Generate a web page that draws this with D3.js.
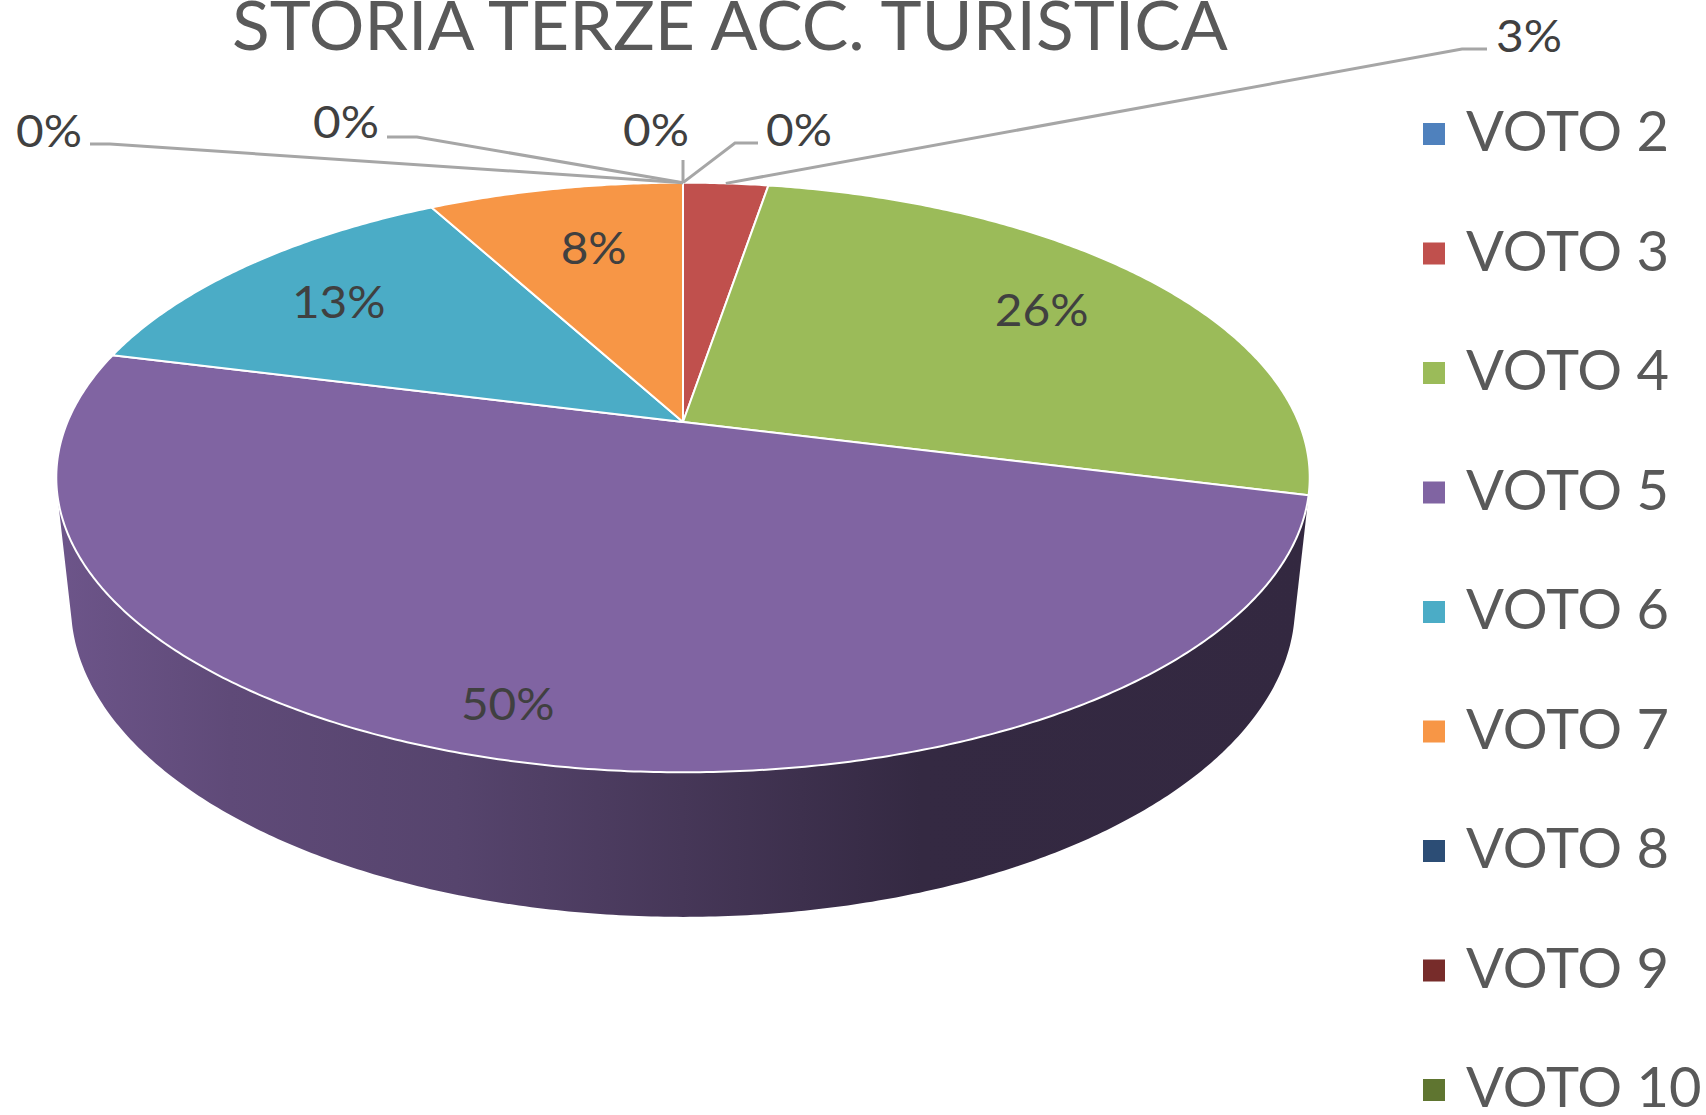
<!DOCTYPE html>
<html><head><meta charset="utf-8">
<script src="https://cdn.jsdelivr.net/npm/d3@7"></script>
<style>body{margin:0;background:#fff}svg{display:block}text{font-family:Lato,"Open Sans",sans-serif}</style>
</head><body><svg id="c" width="1706" height="1115"></svg>
<script>
// ---- data ----
const title = "STORIA TERZE ACC. TURISTICA";
const categories = ["VOTO 2","VOTO 3","VOTO 4","VOTO 5","VOTO 6","VOTO 7","VOTO 8","VOTO 9","VOTO 10"];
const values = [0, 1, 10, 19, 5, 3, 0, 0, 0];
const colors = ["#4f81bd","#c0504d","#9bbb59","#8064a2","#4bacc6","#f79646","#2c4d75","#772c2a","#5f7530"];

// ---- layout ----
const cx = 683, cy = 422;            // projected centre of the top face
const f = 2901, Dcam = 4.713;        // perspective camera
const sinP = 0.462, cosP = Math.sqrt(1 - sinP*sinP);
const thick = 0.236;                 // pie height (radius units)
const sideStops = [[0,0.45],[0.14,0.84],[0.32,1.1],[0.5,1.7],[0.69,2.5],[1,2.6]];
// inside label placement: [fraction along slice angle, radius fraction]
const labelPlace = {2: [0.49, 0.76], 3: [0.51, 0.87], 4: [0.48, 0.76], 5: [0.53, 0.71]};
const outsideLabels = {
  0: {x: 766, y: 146, path: [[758,143],[735,143]]},
  1: {x: 1496, y: 52, path: [[1487,49],[1462,49]]},
  6: {x: 16, y: 147, path: [[90,144],[110,144]]},
  7: {x: 313, y: 138, path: [[387,137],[417,137]]},
  8: {x: 623, y: 146, path: [[683,160]]}
};

const svg = d3.select("#c");
svg.append("rect").attr("width",1706).attr("height",1115).attr("fill","#fff");
const total = d3.sum(values);
const pct = d3.format(".0%");
const color = d3.scaleOrdinal().domain(categories).range(colors);
const arcs = d3.pie().sort(null).value(d => d)(values);

function proj(th, r, h) {
  const x = r*Math.sin(th), d = r*Math.cos(th);
  const z = Dcam + d*cosP - h*sinP;
  const u = h*cosP + d*sinP;
  return [cx + f*x/z, cy - f*u/z];
}
function sample(a0, a1, h) {
  const n = Math.max(2, Math.ceil((a1 - a0)/(Math.PI/360)));
  return d3.range(n + 1).map(i => proj(a0 + (a1 - a0)*i/n, 1, h));
}
const thV = Math.acos(-1/(Dcam*cosP));
const line = d3.line();

const defs = svg.append("defs");
arcs.forEach((a, i) => {
  const g = defs.append("linearGradient").attr("id", "side" + i)
    .attr("gradientUnits", "userSpaceOnUse").attr("x1", 55).attr("x2", 1310).attr("y1", 0).attr("y2", 0);
  sideStops.forEach(s => g.append("stop").attr("offset", s[0])
    .attr("stop-color", d3.color(color(categories[i])).darker(s[1]).formatHex()));
});

// sides
const gSide = svg.append("g");
arcs.forEach((a, i) => {
  const a0 = Math.max(a.startAngle, thV - 0.01), a1 = Math.min(a.endAngle, 2*Math.PI - thV + 0.01);
  if (a1 <= a0) return;
  const pts = sample(a0, a1, 0).concat(sample(a0, a1, -thick).reverse());
  gSide.append("path").attr("d", line(pts) + "Z").attr("fill", "url(#side" + i + ")");
});

// top faces
const gTop = svg.append("g");
arcs.forEach((a, i) => {
  if (a.endAngle - a.startAngle <= 0) return;
  const pts = [proj(0, 0, 0)].concat(sample(a.startAngle, a.endAngle, 0));
  gTop.append("path").attr("d", line(pts) + "Z").attr("fill", color(categories[i]))
    .attr("stroke", "#fff").attr("stroke-width", 2).attr("stroke-linejoin", "round");
});

// label scale
const probe = svg.append("text").attr("font-size", 45).text("0%");
const lsx = 66/probe.node().getComputedTextLength();
probe.remove();

// inside labels
const gLab = svg.append("g");
arcs.forEach((a, i) => {
  if (a.data/total < 0.05) return;
  const pl = labelPlace[i] || [0.5, 0.75];
  const ang = a.startAngle + (a.endAngle - a.startAngle)*pl[0];
  const [x, y] = proj(ang, pl[1], 0);
  gLab.append("text").attr("transform", `translate(${x},${y + 16}) scale(${lsx},1)`)
    .attr("text-anchor", "middle").attr("font-size", 45).attr("fill", "#404040")
    .text(pct(a.data/total));
});

// outside labels + leaders
arcs.forEach((a, i) => {
  const o = outsideLabels[i];
  if (!o) return;
  const mid = (a.startAngle + a.endAngle)/2;
  const end = proj(mid, 1, 0);
  gLab.append("path").attr("d", line(o.path.concat([end]))).attr("fill", "none")
    .attr("stroke", "#a6a6a6").attr("stroke-width", 3);
  gLab.append("text").attr("transform", `translate(${o.x},${o.y}) scale(${lsx},1)`)
    .attr("font-size", 45).attr("fill", "#404040").text(pct(a.data/total));
});

// title
const t = svg.append("text").attr("font-size", 67).attr("fill", "#595959").text(title);
const tsx = 996/t.node().getComputedTextLength();
t.attr("transform", `translate(232,50) scale(${tsx},1)`);

// legend
const gLeg = svg.append("g");
const lp = gLeg.append("text").attr("font-size", 56).text("VOTO 2");
const gsx = 203/lp.node().getComputedTextLength();
lp.remove();
categories.forEach((c, i) => {
  const yb = 151 + i*119.5;
  gLeg.append("rect").attr("x", 1423).attr("y", yb - 28).attr("width", 22).attr("height", 22).attr("fill", color(c));
  gLeg.append("text").attr("transform", `translate(1466,${yb}) scale(${gsx},1)`)
    .attr("font-size", 56).attr("fill", "#595959").text(c);
});
</script></body></html>
